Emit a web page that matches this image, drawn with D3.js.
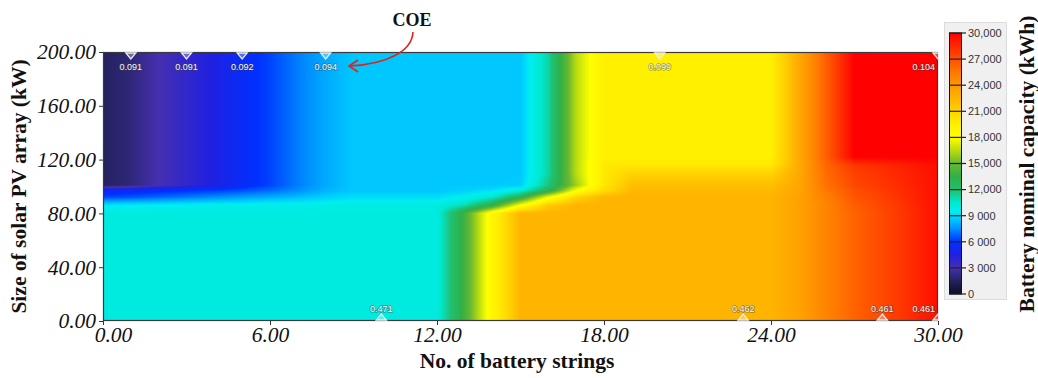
<!DOCTYPE html>
<html>
<head>
<meta charset="utf-8">
<script src="https://cdn.jsdelivr.net/npm/d3@7"></script>
<style>
  body { margin: 0; background: #fff; }
  svg { display: block; }
</style>
</head>
<body>
<svg id="chart" width="1038" height="378"></svg>
<script>
// Number of battery strings (columns of the surface)
const strings = [0, 1, 2, 3, 4, 5, 6, 7, 8, 9, 10, 11, 12, 13, 14, 15, 16, 17, 18, 19, 20, 21, 22, 23, 24, 25, 26, 27, 28, 29, 30];
// Size of solar PV array (kW), rows of the surface
const pvLevels = [0, 80, 86, 92, 97, 101, 110, 116, 122, 200];

// Battery nominal capacity (kWh), one array per PV row
const cap0   = [10000,10000,10000,10000,10000,10000,10000,10000,10000,10000,10000,10000,10000,14000,19000,22500,22500,22500,22500,22500,22500,22500,22500,22500,22500,23500,25000,26300,27300,28300,29500];
const cap80  = [10000,10000,10000,10000,10000,10000,10000,10000,10000,10000,10000,10000,10000,14000,19000,22500,22500,22500,22500,22500,22500,22500,22500,22500,22500,23500,25000,26300,27300,28300,29500];
const cap86  = [9300,9400,9500,9600,9700,9700,9800,9800,9900,9900,9900,9900,10000,11000,13500,18000,21500,22500,22500,22500,22500,22500,22500,22500,22500,23500,25000,26500,27400,28400,29500];
const cap92  = [6400,6600,6900,7200,7500,7800,8100,8400,8800,9100,9100,9100,9100,9600,10500,13200,17800,21000,22500,22500,22500,22500,22500,22500,22500,23500,25200,26800,27600,28500,29500];
const cap97  = [5400,5600,5800,6000,6200,6500,6900,7500,8200,8600,8600,8600,8600,8800,9200,10200,13000,18000,20500,22300,22300,22300,22300,22300,22300,23300,25500,27000,27800,28600,29500];
const cap101 = [1500,2000,3000,3800,4600,5600,6300,7200,8000,8600,8600,8600,8600,8600,8600,8700,11800,16000,20000,22000,22000,22000,22000,22000,22000,23200,25800,27300,28000,28700,29500];
const cap110 = [1500,2000,3000,3800,4600,5600,6300,7200,8000,8600,8600,8600,8600,8600,8600,8600,11200,16500,19800,21000,21000,21000,21000,21000,21000,23100,26000,27600,28200,28800,29500];
const cap116 = [1500,2000,3000,3800,4600,5600,6300,7200,8000,8600,8600,8600,8600,8600,8600,8600,11200,16500,19900,19900,19900,19900,19900,19900,19900,23000,26200,28000,28500,29000,29500];
const cap122 = [1500,2000,3000,3800,4600,5600,6300,7200,8000,8600,8600,8600,8600,8600,8600,8600,11200,16500,19500,19500,19500,19500,19500,19500,19500,23000,26500,30000,30000,30000,30000];
const cap200 = [1500,2000,3000,3800,4600,5600,6300,7200,8000,8600,8600,8600,8600,8600,8600,8600,11200,16500,19500,19500,19500,19500,19500,19500,19500,23000,26500,30000,30000,30000,30000];
const capacityGrid = [cap0, cap80, cap86, cap92, cap97, cap101, cap110, cap116, cap122, cap200];

// COE contour labels along the top and bottom edges
const coeTopStrings = [1, 3, 5, 8, 20, 30];
const coeTopLabels = ['0.091', '0.091', '0.092', '0.094', '0.099', '0.104'];
const coeBottomStrings = [10, 23, 28, 30];
const coeBottomLabels = ['0.471', '0.462', '0.461', '0.461'];

// Axis ticks
const xTicks = [0, 6, 12, 18, 24, 30];
const yTicks = [0, 40, 80, 120, 160, 200];
const legendTicks = [0, 3000, 6000, 9000, 12000, 15000, 18000, 21000, 24000, 27000, 30000];
const legendTickLabels = ['0', '3 000', '6 000', '9 000', '12,000', '15,000', '18,000', '21,000', '24,000', '27,000', '30,000'];

// Colour map of the capacity scale
const colorDomain = [0, 1500, 3000, 4500, 6000, 7500, 8600, 9500, 10500, 12000, 13500, 15000, 16500, 18000, 19500, 21000, 22500, 24000, 25500, 27000, 28500, 30000];
const colorRange = ['#0c0c24','#24225e','#4530b0','#2020e0','#0030ff','#0090ff','#00c8ff','#00eef0','#00e8d0','#20c070','#30b048','#68b830','#b8dc10','#ffff00','#fff000','#ffd400','#ffb400','#ff9800','#ff7800','#ff5000','#ff2800','#ff0000'];

const serif = '"Liberation Serif", "Times New Roman", serif';
const sans = '"Liberation Sans", Arial, sans-serif';

const svg = d3.select('#chart');
svg.append('rect').attr('width', 1038).attr('height', 378).attr('fill', '#fff');

const x = d3.scaleLinear().domain([0, 30]).range([103, 938]);
const y = d3.scaleLinear().domain([0, 200]).range([321, 52]);
const color = d3.scaleLinear().domain(colorDomain).range(colorRange).interpolate(d3.interpolateRgb).clamp(true);

// Surface: bilinear shading of the capacity grid, painted on a canvas
const W = Math.round(x(30) - x(0));
const H = Math.round(y(0) - y(200));
const canvas = document.createElement('canvas');
canvas.width = W;
canvas.height = H;
const ctx = canvas.getContext('2d');
const img = ctx.createImageData(W, H);

const lut = [];
for (let k = 0; k <= 3000; k++) lut.push(d3.rgb(color(k * 10)));

for (let py = 0; py < H; py++) {
  const pv = y.invert(y(200) + py + 0.5);
  let j = d3.bisectRight(pvLevels, pv) - 1;
  j = Math.max(0, Math.min(pvLevels.length - 2, j));
  const v = (pv - pvLevels[j]) / (pvLevels[j + 1] - pvLevels[j]);
  for (let px = 0; px < W; px++) {
    const s = x.invert(x(0) + px + 0.5);
    let i = d3.bisectRight(strings, s) - 1;
    i = Math.max(0, Math.min(strings.length - 2, i));
    const u = (s - strings[i]) / (strings[i + 1] - strings[i]);
    const r0 = capacityGrid[j], r1 = capacityGrid[j + 1];
    const val = (r0[i] * (1 - u) + r0[i + 1] * u) * (1 - v) + (r1[i] * (1 - u) + r1[i + 1] * u) * v;
    const c = lut[Math.max(0, Math.min(3000, Math.round(val / 10)))];
    const o = (py * W + px) * 4;
    img.data[o] = c.r;
    img.data[o + 1] = c.g;
    img.data[o + 2] = c.b;
    img.data[o + 3] = 255;
  }
}
ctx.putImageData(img, 0, 0);

svg.append('image')
  .attr('x', x(0))
  .attr('y', y(200))
  .attr('width', W)
  .attr('height', H)
  .attr('preserveAspectRatio', 'none')
  .attr('href', canvas.toDataURL());

svg.append('clipPath').attr('id', 'plot-clip')
  .append('rect')
  .attr('x', x(0)).attr('y', y(200)).attr('width', W).attr('height', H);

// Frame
svg.append('rect')
  .attr('x', x(0) + 0.5).attr('y', y(200) + 0.5)
  .attr('width', W - 1).attr('height', H - 1)
  .attr('fill', 'none')
  .attr('stroke', '#3a3a3a')
  .attr('stroke-width', 1.2);

// COE markers and labels
const marks = svg.append('g').attr('clip-path', 'url(#plot-clip)');

marks.selectAll('.top-mark')
  .data(coeTopStrings)
  .enter()
  .append('path')
  .attr('d', d => `M${x(d) - 5},${y(200) + 1} L${x(d) + 5},${y(200) + 1} L${x(d)},${y(200) + 7} Z`)
  .attr('fill', 'rgba(255,255,255,0.3)')
  .attr('stroke', '#ececec')
  .attr('stroke-width', 1.3);

marks.selectAll('.bottom-mark')
  .data(coeBottomStrings)
  .enter()
  .append('path')
  .attr('d', d => `M${x(d) - 5},${y(0) - 1} L${x(d) + 5},${y(0) - 1} L${x(d)},${y(0) - 7} Z`)
  .attr('fill', 'rgba(255,255,255,0.3)')
  .attr('stroke', '#ececec')
  .attr('stroke-width', 1.3);

const coeText = (sel) => sel
  .attr('text-anchor', d => d === 30 ? 'end' : 'middle')
  .style('font-family', sans)
  .style('font-size', '9px')
  .style('fill', '#f6f6f6')
  .style('stroke', 'rgba(60,60,60,0.45)')
  .style('stroke-width', '1.6px')
  .style('paint-order', 'stroke');

svg.selectAll('.coe-top')
  .data(coeTopStrings)
  .enter()
  .append('text')
  .attr('x', d => d === 30 ? x(d) - 3 : x(d))
  .attr('y', y(200) + 18)
  .call(coeText)
  .text((d, i) => coeTopLabels[i]);

svg.selectAll('.coe-bottom')
  .data(coeBottomStrings)
  .enter()
  .append('text')
  .attr('x', d => d === 30 ? x(d) - 3 : x(d))
  .attr('y', y(0) - 9)
  .call(coeText)
  .text((d, i) => coeBottomLabels[i]);

// Axes
const xAxis = svg.append('g')
  .attr('transform', `translate(0,${y(0)})`)
  .call(d3.axisBottom(x).tickValues(xTicks).tickFormat(d3.format('.2f')).tickSize(4).tickPadding(2));

const yAxis = svg.append('g')
  .attr('transform', `translate(${x(0)},0)`)
  .call(d3.axisLeft(y).tickValues(yTicks).tickFormat(d3.format('.2f')).tickSize(4).tickPadding(3));

[xAxis, yAxis].forEach(a => {
  a.select('.domain').remove();
  a.selectAll('line').attr('stroke', '#333');
  a.selectAll('text')
    .style('font-family', serif)
    .style('font-style', 'italic')
    .style('font-size', '21.5px')
    .style('fill', '#111');
});
xAxis.selectAll('.tick').filter(d => d === 0).select('text').attr('dx', 10);

// Axis titles
svg.append('text')
  .attr('x', 517)
  .attr('y', 368)
  .attr('text-anchor', 'middle')
  .style('font-family', serif)
  .style('font-weight', 'bold')
  .style('font-size', '21.5px')
  .style('fill', '#111')
  .text('No. of battery strings');

svg.append('text')
  .attr('transform', `translate(26,${(y(0) + y(200)) / 2}) rotate(-90)`)
  .attr('text-anchor', 'middle')
  .style('font-family', serif)
  .style('font-weight', 'bold')
  .style('font-size', '21.5px')
  .style('fill', '#111')
  .text('Size of solar PV array (kW)');

// COE callout
svg.append('text')
  .attr('x', 412)
  .attr('y', 26)
  .attr('text-anchor', 'middle')
  .style('font-family', serif)
  .style('font-weight', 'bold')
  .style('font-size', '18px')
  .style('fill', '#111')
  .text('COE');

svg.append('path')
  .attr('d', 'M413,32 C412,52 386,64 350,66')
  .attr('fill', 'none')
  .attr('stroke', '#e3221c')
  .attr('stroke-width', 1.6);

svg.append('path')
  .attr('d', 'M358,60 L349,66 L358,72')
  .attr('fill', 'none')
  .attr('stroke', '#e3221c')
  .attr('stroke-width', 1.6);

// Colour legend
const legendY = d3.scaleLinear().domain([0, 30000]).range([294, 33]);

svg.append('rect')
  .attr('x', 944.5).attr('y', 22.5)
  .attr('width', 62).attr('height', 277)
  .attr('fill', '#f0f0f0')
  .attr('stroke', '#dcdcdc');

const grad = svg.append('defs').append('linearGradient')
  .attr('id', 'cap-gradient')
  .attr('x1', '0%').attr('y1', '100%')
  .attr('x2', '0%').attr('y2', '0%');

grad.selectAll('stop')
  .data(colorDomain)
  .enter()
  .append('stop')
  .attr('offset', d => `${(d / 30000) * 100}%`)
  .attr('stop-color', d => color(d));

svg.append('rect')
  .attr('x', 949.5).attr('y', legendY(30000))
  .attr('width', 12).attr('height', legendY(0) - legendY(30000))
  .attr('fill', 'url(#cap-gradient)')
  .attr('stroke', '#111')
  .attr('stroke-width', 1);

const legendAxis = svg.append('g')
  .attr('transform', 'translate(949,0)');

legendAxis.selectAll('line')
  .data(legendTicks)
  .enter()
  .append('line')
  .attr('x1', 0).attr('x2', 17)
  .attr('y1', d => legendY(d)).attr('y2', d => legendY(d))
  .attr('stroke', '#222')
  .attr('stroke-width', 1.2);

legendAxis.selectAll('text')
  .data(legendTicks)
  .enter()
  .append('text')
  .attr('x', 19)
  .attr('y', d => legendY(d))
  .attr('dy', '0.35em')
  .style('font-family', sans)
  .style('font-size', '11px')
  .style('fill', '#333')
  .text((d, i) => legendTickLabels[i]);

svg.append('text')
  .attr('transform', 'translate(1034,164) rotate(-90)')
  .attr('text-anchor', 'middle')
  .style('font-family', serif)
  .style('font-weight', 'bold')
  .style('font-size', '21.5px')
  .style('fill', '#111')
  .text('Battery nominal capacity (kWh)');
</script>
</body>
</html>
